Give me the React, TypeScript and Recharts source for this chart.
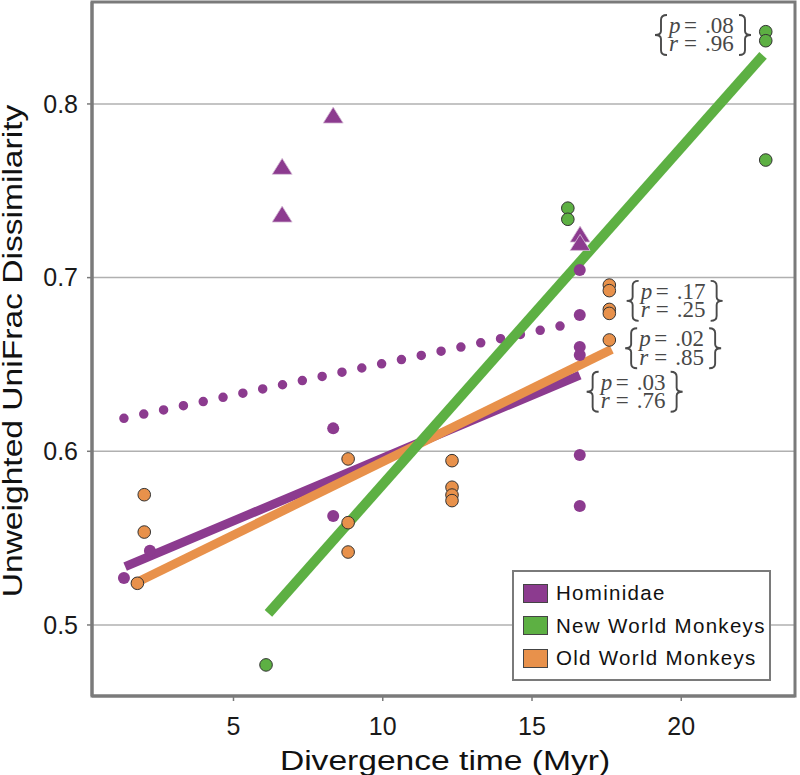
import React from 'react';
import {
  ComposedChart,
  Scatter,
  Line,
  XAxis,
  YAxis,
  CartesianGrid,
  ReferenceArea,
  ReferenceDot,
  Legend,
} from 'recharts';

const PURPLE = '#8C3B8F';
const GREEN = '#5DB043';
const ORANGE = '#E8914B';
const AXIS_GREY = '#7a7a7a';

// Hominidae (purple circles)
const hominidaeCircles = [
  { x: 1.33, y: 0.527 },
  { x: 2.2, y: 0.5428 },
  { x: 8.34, y: 0.6132 },
  { x: 8.34, y: 0.5627 },
  { x: 16.6, y: 0.7044 },
  { x: 16.6, y: 0.6785 },
  { x: 16.6, y: 0.66 },
  { x: 16.6, y: 0.6554 },
  { x: 16.6, y: 0.5979 },
  { x: 16.6, y: 0.5685 },
];
// Hominidae (purple triangles)
const hominidaeTriangles = [
  { x: 6.63, y: 0.7635 },
  { x: 6.63, y: 0.736 },
  { x: 8.34, y: 0.793 },
  { x: 16.61, y: 0.7245 },
  { x: 16.61, y: 0.7197 },
];
// New World Monkeys (green)
const newWorld = [
  { x: 6.09, y: 0.477 },
  { x: 16.2, y: 0.74 },
  { x: 16.2, y: 0.7336 },
  { x: 22.83, y: 0.8416 },
  { x: 22.83, y: 0.8364 },
  { x: 22.83, y: 0.7677 },
];
// Old World Monkeys (orange)
const oldWorld = [
  { x: 1.78, y: 0.524 },
  { x: 2.01, y: 0.5535 },
  { x: 2.01, y: 0.575 },
  { x: 8.84, y: 0.5956 },
  { x: 8.84, y: 0.5589 },
  { x: 8.84, y: 0.542 },
  { x: 12.32, y: 0.5946 },
  { x: 12.32, y: 0.5793 },
  { x: 12.32, y: 0.5748 },
  { x: 12.32, y: 0.5716 },
  { x: 17.59, y: 0.6957 },
  { x: 17.59, y: 0.6925 },
  { x: 17.59, y: 0.6817 },
  { x: 17.59, y: 0.6794 },
  { x: 17.59, y: 0.6641 },
];

// Regression fits
const hominidaeFit = [
  { x: 1.37, y: 0.5336 },
  { x: 16.6, y: 0.6439 },
];
const hominidaeDotted = [
  { x: 1.33, y: 0.619 },
  { x: 16.6, y: 0.6745 },
];
const newWorldFit = [
  { x: 6.17, y: 0.5067 },
  { x: 22.74, y: 0.828 },
];
const oldWorldFit = [
  { x: 1.7, y: 0.524 },
  { x: 17.67, y: 0.6587 },
];

const annotations = [
  { x: 19.12, y: 0.8397, p: '.08', r: '.96' },
  { x: 18.17, y: 0.6866, p: '.17', r: '.25' },
  { x: 18.12, y: 0.6593, p: '.02', r: '.85' },
  { x: 16.83, y: 0.6343, p: '.03', r: '.76' },
];

const xTicks = [5, 10, 15, 20];
const yTicks = [0.5, 0.6, 0.7, 0.8];
const X_DOMAIN: [number, number] = [0.26, 23.81];
const Y_DOMAIN: [number, number] = [0.4591, 0.8587];

const legendItems = [
  { name: 'Hominidae', color: PURPLE },
  { name: 'New World Monkeys', color: GREEN },
  { name: 'Old World Monkeys', color: ORANGE },
];

const makeCircle = (fill: string, stroke: string | null, r: number) => (props: any) => {
  const { cx, cy } = props;
  if (cx == null || cy == null) return <g />;
  return (
    <circle
      cx={cx}
      cy={cy}
      r={r}
      fill={fill}
      stroke={stroke || 'none'}
      strokeWidth={stroke ? 1 : 0}
    />
  );
};

const Triangle = (props: any) => {
  const { cx, cy } = props;
  if (cx == null || cy == null) return <g />;
  const pts = `${cx},${cy - 9} ${cx - 10},${cy + 7} ${cx + 10},${cy + 7}`;
  return <polygon points={pts} fill={PURPLE} stroke="#d9c3d9" strokeWidth={0.8} />;
};

const Brace = ({ x, y, w, h, flip }: { x: number; y: number; w: number; h: number; flip?: boolean }) => {
  const ax = flip ? x : x + w;
  const mx = x + w / 2;
  const tx = flip ? x + w : x;
  const d = `M ${ax} ${y} Q ${mx} ${y} ${mx} ${y + h * 0.12} L ${mx} ${y + h * 0.4} Q ${mx} ${y + h / 2} ${tx} ${
    y + h / 2
  } Q ${mx} ${y + h / 2} ${mx} ${y + h * 0.6} L ${mx} ${y + h * 0.88} Q ${mx} ${y + h} ${ax} ${y + h}`;
  return <path d={d} fill="none" stroke="#4a4a4a" strokeWidth={1.9} />;
};

const makeAnnotation = (p: string, r: string) => (props: any) => {
  const { cx, cy } = props;
  if (cx == null || cy == null) return <g />;
  const T = cy - 20;
  const textStyle = { fontFamily: '"Liberation Serif", "DejaVu Serif", serif', fontSize: 23, fill: '#484848' };
  const row = (sym: string, val: string, base: number) => (
    <g>
      <text x={cx + 14} y={base} style={{ ...textStyle, fontStyle: 'italic' }}>
        {sym}
      </text>
      <text x={cx + 29} y={base} style={textStyle}>
        =
      </text>
      <text x={cx + 50} y={base} style={textStyle}>
        {val}
      </text>
    </g>
  );
  return (
    <g>
      <Brace x={cx} y={T} w={12} h={40} />
      {row('p', p, T + 18)}
      {row('r', r, T + 36.5)}
      <Brace x={cx + 84} y={T} w={12} h={40} flip />
    </g>
  );
};

const renderLegend = () => (
  <div
    style={{
      width: 259,
      height: 111,
      boxSizing: 'border-box',
      border: `2px solid ${AXIS_GREY}`,
      background: '#fff',
      padding: '5px 0 0 9px',
      fontFamily: '"Liberation Sans", Arial, sans-serif',
      fontSize: 20.5,
      letterSpacing: 1.3,
      color: '#111',
    }}
  >
    {legendItems.map((it) => (
      <div key={it.name} style={{ display: 'flex', alignItems: 'center', height: 32.5 }}>
        <span
          style={{
            display: 'inline-block',
            width: 25,
            height: 19,
            background: it.color,
            border: '1px solid #444',
            boxSizing: 'border-box',
            marginRight: 8,
          }}
        />
        <span style={{ lineHeight: 1 }}>{it.name}</span>
      </div>
    ))}
  </div>
);

const sans = '"Liberation Sans", Arial, sans-serif';

export default function App() {
  return (
    <div style={{ position: 'absolute', left: 0, top: 0, width: 800, height: 775, background: '#fff' }}>
      <ComposedChart width={800} height={775} margin={{ top: 2, right: 5, bottom: 0, left: 0 }}>
        <CartesianGrid horizontal vertical={false} stroke="#b0b0b0" strokeWidth={1.5} />
        <XAxis
          dataKey="x"
          type="number"
          domain={X_DOMAIN}
          allowDataOverflow
          ticks={xTicks}
          interval={0}
          height={79}
          tickSize={5}
          tickMargin={16}
          stroke={AXIS_GREY}
          axisLine={{ stroke: AXIS_GREY, strokeWidth: 3 }}
          tickLine={{ stroke: AXIS_GREY, strokeWidth: 1.5 }}
          tick={{ fill: '#1a1a1a', fontSize: 25, fontFamily: sans }}
          label={{
            content: (props: any) => {
              const vb = props.viewBox || { x: 92, y: 696, width: 703, height: 79 };
              const cx = vb.x + vb.width / 2 + 1.5;
              const cy = vb.y + 74;
              return (
                <text
                  x={0}
                  y={0}
                  textAnchor="middle"
                  transform={`translate(${cx}, ${cy}) scale(1.2, 1)`}
                  style={{ fontFamily: sans, fontSize: 28, fill: '#111' }}
                >
                  Divergence time (Myr)
                </text>
              );
            },
          }}
        />
        <YAxis
          dataKey="y"
          type="number"
          domain={Y_DOMAIN}
          allowDataOverflow
          ticks={yTicks}
          interval={0}
          width={92}
          tickSize={5}
          tickMargin={9}
          tickFormatter={(v: number) => v.toFixed(1)}
          stroke={AXIS_GREY}
          axisLine={{ stroke: AXIS_GREY, strokeWidth: 3 }}
          tickLine={{ stroke: AXIS_GREY, strokeWidth: 1.5 }}
          tick={{ fill: '#1a1a1a', fontSize: 25, fontFamily: sans }}
          label={{
            content: (props: any) => {
              const vb = props.viewBox || { x: 0, y: 2, width: 92, height: 694 };
              const cx = 22;
              const cy = vb.y + vb.height / 2 + 2;
              return (
                <text
                  x={0}
                  y={0}
                  textAnchor="middle"
                  transform={`translate(${cx}, ${cy}) rotate(-90) scale(1.2, 1)`}
                  style={{ fontFamily: sans, fontSize: 28, fill: '#111' }}
                >
                  Unweighted UniFrac Dissimilarity
                </text>
              );
            },
          }}
        />
        <ReferenceArea
          x1={X_DOMAIN[0]}
          x2={X_DOMAIN[1]}
          y1={Y_DOMAIN[0]}
          y2={Y_DOMAIN[1]}
          fill="none"
          fillOpacity={0}
          stroke={AXIS_GREY}
          strokeWidth={3}
          ifOverflow="visible"
        />

        <Scatter name="Hominidae" data={hominidaeCircles} dataKey="y" fill={PURPLE} shape={makeCircle(PURPLE, null, 6)} isAnimationActive={false} legendType="none" />
        <Scatter name="Hominidae triangles" data={hominidaeTriangles} dataKey="y" fill={PURPLE} shape={Triangle} isAnimationActive={false} legendType="none" />
        <Scatter name="New World Monkeys" data={newWorld} dataKey="y" fill={GREEN} shape={makeCircle(GREEN, '#333', 6.3)} isAnimationActive={false} legendType="none" />
        <Scatter name="Old World Monkeys" data={oldWorld} dataKey="y" fill={ORANGE} shape={makeCircle(ORANGE, '#333', 6.3)} isAnimationActive={false} legendType="none" />

        <Line
          data={hominidaeDotted}
          dataKey="y"
          type="linear"
          stroke={PURPLE}
          strokeWidth={9.5}
          strokeDasharray="0 20.26"
          strokeLinecap="round"
          dot={false}
          activeDot={false}
          isAnimationActive={false}
          legendType="none"
        />
        <Line data={hominidaeFit} dataKey="y" type="linear" stroke={PURPLE} strokeWidth={9} dot={false} activeDot={false} isAnimationActive={false} legendType="none" />
        <Line data={oldWorldFit} dataKey="y" type="linear" stroke={ORANGE} strokeWidth={9} dot={false} activeDot={false} isAnimationActive={false} legendType="none" />
        <Line data={newWorldFit} dataKey="y" type="linear" stroke={GREEN} strokeWidth={10} dot={false} activeDot={false} isAnimationActive={false} legendType="none" />

        {annotations.map((a) => (
          <ReferenceDot key={a.p} x={a.x} y={a.y} r={0} ifOverflow="visible" shape={makeAnnotation(a.p, a.r)} />
        ))}

        <Legend
          layout="horizontal"
          verticalAlign="middle"
          align="center"
          content={renderLegend}
          wrapperStyle={{ left: 512, top: 570, width: 259, height: 111 }}
        />
      </ComposedChart>
    </div>
  );
}
